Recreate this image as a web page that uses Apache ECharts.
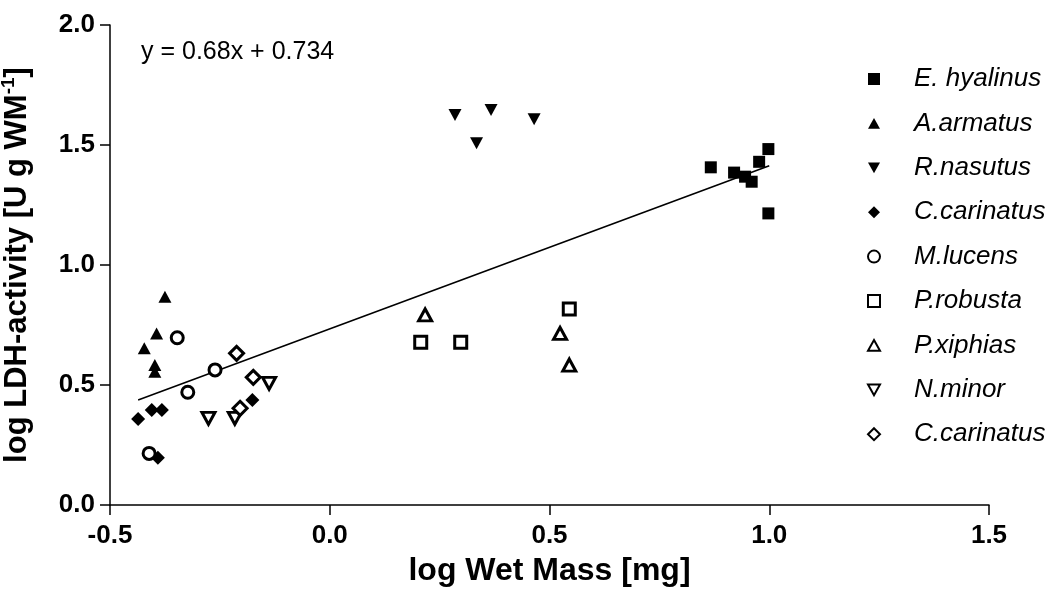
<!DOCTYPE html>
<html>
<head>
<meta charset="utf-8">
<script src="https://cdn.jsdelivr.net/npm/echarts@6/dist/echarts.min.js"></script>
<style>
html,body{margin:0;padding:0;background:#fff;}
#chart{width:1053px;height:592px;}
</style>
</head>
<body>
<div id="chart"></div>
<script>
// ---- data (log wet mass [mg], log LDH-activity) ----
const E_hyalinus = [[0.867,1.407],[0.920,1.385],[0.945,1.368],[0.960,1.347],[0.977,1.430],[0.998,1.483],[0.998,1.215]];
const A_armatus = [[-0.375,0.868],[-0.394,0.715],[-0.422,0.653],[-0.398,0.583],[-0.398,0.555]];
const R_nasutus = [[0.285,1.625],[0.367,1.646],[0.465,1.607],[0.334,1.507]];
const C_carinatus = [[-0.436,0.358],[-0.405,0.396],[-0.382,0.396],[-0.176,0.438],[-0.391,0.197]];
const M_lucens = [[-0.347,0.697],[-0.261,0.563],[-0.323,0.470],[-0.411,0.215]];
const P_robusta = [[0.207,0.678],[0.298,0.678],[0.545,0.817]];
const P_xiphias = [[0.217,0.792],[0.524,0.715],[0.545,0.583]];
const N_minor = [[-0.138,0.507],[-0.276,0.361],[-0.216,0.361]];
const C_carinatus_open = [[-0.212,0.632],[-0.174,0.532],[-0.204,0.403]];

const seriesNames = ['E. hyalinus','A.armatus','R.nasutus','C.carinatus','M.lucens','P.robusta','P.xiphias','N.minor','C.carinatus '];
const slope = 0.68, intercept = 0.734;
const fitRangeX = [-0.436, 1.0];
const xTicks = [-0.5, 0.0, 0.5, 1.0, 1.5];
const yTicks = [0.0, 0.5, 1.0, 1.5, 2.0];

const fitLine = fitRangeX.map(x => [x, slope * x + intercept]);

const FONT = 'Liberation Sans, Arial, sans-serif';
const DOWN = 'path://M0,0L20,0L10,18Z';
const UP = 'path://M10,0L20,18L0,18Z';
const filled = {color:'#000', borderWidth:0, opacity:1};
const open = {color:'#fff', borderColor:'#000', borderWidth:3, opacity:1};

function sc(name, data, symbol, size, style) {
  return {
    type:'scatter', name:name, data:data, symbol:symbol, symbolSize:size,
    itemStyle:style, z:3, silent:true
  };
}

const chart = echarts.init(document.getElementById('chart'), null, {renderer:'canvas'});
chart.setOption({
  animation:false,
  backgroundColor:'#fff',
  title:{
    text:'y = ' + slope.toFixed(2) + 'x + ' + intercept.toFixed(3),
    left:141, top:40, padding:0,
    textStyle:{fontFamily:FONT, fontSize:25, fontWeight:'normal', color:'#000'}
  },
  grid:{left:110, right:64, top:25, bottom:87, containLabel:false, outerBoundsMode:'none'},
  xAxis:{
    type:'value', min:xTicks[0], max:xTicks[xTicks.length-1], interval:0.5,
    name:'log Wet Mass [mg]', nameLocation:'middle', nameGap:50,
    nameTextStyle:{fontFamily:FONT, fontSize:32, fontWeight:'bold', color:'#000'},
    axisLine:{onZero:false, lineStyle:{color:'#000', width:1.5}},
    axisTick:{show:true, length:10, lineStyle:{color:'#000', width:1.5}},
    axisLabel:{margin:18, fontFamily:FONT, fontSize:26, fontWeight:'bold', color:'#000',
      formatter:v => v.toFixed(1)},
    splitLine:{show:false}
  },
  yAxis:{
    type:'value', min:yTicks[0], max:yTicks[yTicks.length-1], interval:0.5,
    name:'log LDH-activity [U g WM{sup|-1}]', nameLocation:'middle', nameGap:74, nameRotate:90,
    nameTextStyle:{fontFamily:FONT, fontSize:31, fontWeight:'bold', color:'#000',
      rich:{sup:{fontFamily:FONT, fontSize:19, fontWeight:'bold', color:'#000', padding:[0,0,18,0]}}},
    axisLine:{onZero:false, lineStyle:{color:'#000', width:1.5}},
    axisTick:{show:true, length:10, lineStyle:{color:'#000', width:1.5}},
    axisLabel:{margin:15, fontFamily:FONT, fontSize:26, fontWeight:'bold', color:'#000',
      formatter:v => v.toFixed(1)},
    splitLine:{show:false}
  },
  legend:{
    orient:'vertical', left:862, top:61, itemWidth:12, itemHeight:12, itemGap:18.4,
    data:seriesNames,
    textStyle:{fontFamily:FONT, fontSize:26, fontStyle:'italic', color:'#000', padding:[0,0,0,29]},
    selectedMode:false
  },
  series:[
    {type:'line', data:fitLine, symbol:'none', lineStyle:{color:'#000', width:1.6}, z:2, silent:true},
    sc(seriesNames[0], E_hyalinus, 'rect', 12, filled),
    sc(seriesNames[1], A_armatus, UP, [13,12], filled),
    sc(seriesNames[2], R_nasutus, DOWN, [13,12], filled),
    sc(seriesNames[3], C_carinatus, 'diamond', 14, filled),
    sc(seriesNames[4], M_lucens, 'circle', 12, open),
    sc(seriesNames[5], P_robusta, 'rect', 12, open),
    sc(seriesNames[6], P_xiphias, UP, [13,12], open),
    sc(seriesNames[7], N_minor, DOWN, [13,12], open),
    sc(seriesNames[8], C_carinatus_open, 'diamond', 14, open)
  ]
});
</script>
</body>
</html>
